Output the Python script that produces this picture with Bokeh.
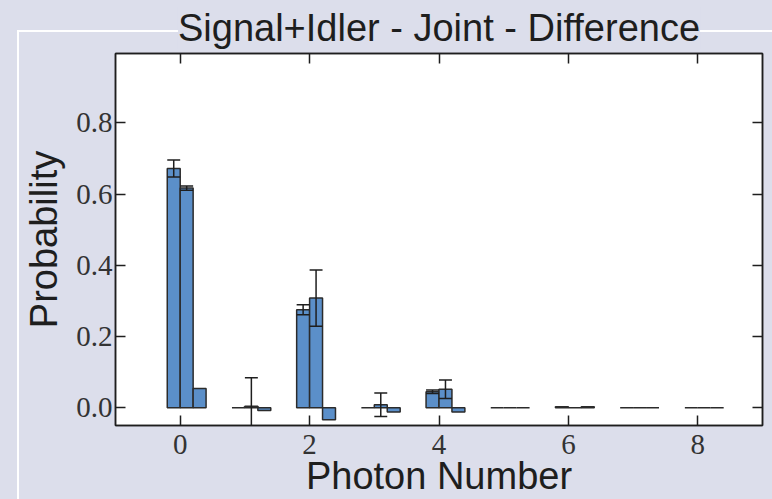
from bokeh.plotting import figure
from bokeh.models import ColumnDataSource, FixedTicker, LinearAxis, Range1d
from bokeh.embed import file_html
from bokeh.resources import INLINE

# ---- data ----
photon = [0, 1, 2, 3, 4, 5, 6, 7, 8]
left_vals = [0.672, 0.000, 0.275, 0.000, 0.045, 0.000, 0.003, 0.000, 0.000]
left_err = [0.024, 0.000, 0.014, 0.000, 0.005, 0.000, 0.000, 0.000, 0.000]
mid_vals = [0.617, 0.004, 0.308, 0.008, 0.052, 0.000, 0.000, 0.000, 0.000]
mid_err = [0.006, 0.080, 0.079, 0.033, 0.026, 0.000, 0.000, 0.000, 0.000]
right_vals = [0.054, -0.008, -0.034, -0.012, -0.012, 0.000, 0.003, 0.000, 0.000]
x_ticks = [0, 2, 4, 6, 8]
y_ticks = [0.0, 0.2, 0.4, 0.6, 0.8]
y_tick_labels = ["0.0", "0.2", "0.4", "0.6", "0.8"]

BG = "#dcdeeb"
BAR = "#5b8fc9"
EDGE = "#2b2b2b"
INK = "#1e1e1e"
BAR_W = 0.2

# page background with the thin white frame line (drawn in CSS behind the canvas)
host_bg = ("linear-gradient(#ffffff, #ffffff) 17px 30px / 2px 100% no-repeat, "
           "linear-gradient(#ffffff, #ffffff) 17px 30px / 100% 2px no-repeat, " + BG)

p = figure(width=772, height=499, x_range=Range1d(-1, 9), y_range=Range1d(-0.05, 0.995),
           x_axis_type=None, y_axis_type=None, output_backend="svg",
           toolbar_location=None, min_border_left=115, min_border_right=10,
           min_border_top=53, min_border_bottom=73,
           styles={"background": host_bg})
p.background_fill_color = "white"
p.border_fill_color = None
p.outline_line_color = INK
p.outline_line_width = 1.5
p.grid.visible = False

offsets = [-0.1, 0.1, 0.3]
series = [left_vals, mid_vals, right_vals]
for off, vals in zip(offsets, series):
    src = ColumnDataSource(dict(x=[n + off for n in photon], top=vals))
    p.vbar(x="x", top="top", bottom=0, width=BAR_W, source=src,
           fill_color=BAR, line_color=EDGE, line_width=1.5)

# error bars
ex, ey0, ey1 = [], [], []
for off, vals, errs in [(-0.1, left_vals, left_err), (0.1, mid_vals, mid_err)]:
    for n, v, e in zip(photon, vals, errs):
        if e > 0:
            ex.append(n + off)
            ey0.append(v - e)
            ey1.append(v + e)
esrc = ColumnDataSource(dict(x=ex, y0=ey0, y1=ey1,
                             xl=[x - BAR_W / 2 for x in ex],
                             xr=[x + BAR_W / 2 for x in ex]))
p.segment(x0="x", x1="x", y0="y0", y1="y1", source=esrc, line_color=INK, line_width=1.5)
p.segment(x0="xl", x1="xr", y0="y1", y1="y1", source=esrc, line_color=INK, line_width=1.5)
p.segment(x0="xl", x1="xr", y0="y0", y1="y0", source=esrc, line_color=INK, line_width=1.5)


def style_axis(ax, ticks, labels):
    ax.ticker = FixedTicker(ticks=ticks)
    ax.major_tick_in = 10
    ax.major_tick_out = 0
    ax.minor_tick_line_color = None
    ax.axis_line_color = INK
    ax.axis_line_width = 1.5
    ax.major_tick_line_color = INK
    ax.major_tick_line_width = 1.5
    if labels:
        ax.major_label_text_font = "Liberation Serif"
        ax.major_label_text_font_size = "29px"
        ax.major_label_text_color = "#333333"
    else:
        ax.major_label_text_font_size = "1px"
        ax.major_label_text_alpha = 0
        ax.major_label_standoff = 0


bottom = LinearAxis()
style_axis(bottom, x_ticks, True)
bottom.major_label_standoff = 9
bottom.axis_label = "Photon Number"
bottom.axis_label_text_font = "Liberation Sans"
bottom.axis_label_text_font_size = "38px"
bottom.axis_label_text_font_style = "normal"
bottom.axis_label_text_color = INK
bottom.axis_label_standoff = -2
p.add_layout(bottom, "below")

left = LinearAxis()
style_axis(left, y_ticks, True)
left.major_label_overrides = {t: s for t, s in zip(y_ticks, y_tick_labels)}
left.major_label_standoff = 3
left.axis_label = "Probability"
left.axis_label_text_font = "Liberation Sans"
left.axis_label_text_font_size = "38px"
left.axis_label_text_font_style = "normal"
left.axis_label_text_color = INK
left.axis_label_standoff = 8
p.add_layout(left, "left")

top = LinearAxis()
style_axis(top, x_ticks, False)
p.add_layout(top, "above")

right = LinearAxis()
style_axis(right, y_ticks, False)
p.add_layout(right, "right")

p.title.text = "Signal+Idler - Joint - Difference"
p.title.text_font = "Liberation Sans"
p.title.text_font_size = "38px"
p.title.text_font_style = "normal"
p.title.text_color = INK
p.title.align = "center"
p.title.background_fill_color = BG
p.title.standoff = 9

open("out.html", "w").write(file_html(p, INLINE))
